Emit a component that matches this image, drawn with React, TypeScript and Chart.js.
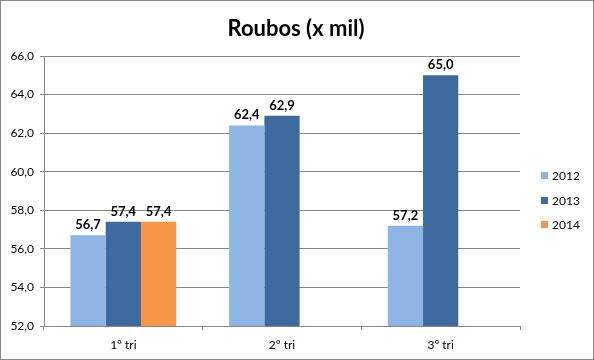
import React, { useEffect, useRef } from "react";
import { Chart, registerables } from "chart.js";

Chart.register(...registerables);

const categories = ["1º tri", "2º tri", "3º tri"];
const seriesNames = ["2012", "2013", "2014"];
const values2012 = [56.7, 62.4, 57.2];
const values2013 = [57.4, 62.9, 65.0];
const values2014: (number | null)[] = [57.4, null, null];
const colors = ["#8EB4E3", "#3F6A9F", "#F79646"];
const titleText = "Roubos (x mil)";
const yMin = 52;
const yMax = 66;
const yStep = 2;

const FONT = "Lato, 'Open Sans', sans-serif";

const fmt = (v: number) => v.toFixed(1).replace(".", ",");

const decorPlugin = {
  id: "decor",
  afterDraw(chart: any) {
    const ctx = chart.ctx;
    ctx.save();
    // outer border
    ctx.strokeStyle = "#888888";
    ctx.lineWidth = 1;
    ctx.strokeRect(0.5, 0.5, chart.width - 1, chart.height - 1);
    // title
    ctx.fillStyle = "#000";
    ctx.font = `bold 22px ${FONT}`;
    ctx.textAlign = "center";
    ctx.textBaseline = "alphabetic";
    ctx.fillText(titleText, 296, 36);
    // data labels
    ctx.font = `bold 13px ${FONT}`;
    ctx.textBaseline = "alphabetic";
    chart.data.datasets.forEach((ds: any, i: number) => {
      const meta = chart.getDatasetMeta(i);
      meta.data.forEach((bar: any, j: number) => {
        const v = ds.data[j];
        if (v == null) return;
        ctx.fillText(fmt(v), bar.x, bar.y - 6);
      });
    });
    // legend
    ctx.font = `12px ${FONT}`;
    ctx.textAlign = "left";
    ctx.textBaseline = "middle";
    const rowsY = [176, 201, 225];
    seriesNames.forEach((name, i) => {
      ctx.fillStyle = colors[i];
      ctx.fillRect(541, rowsY[i] - 4, 7, 7);
      ctx.fillStyle = "#000";
      ctx.fillText(name, 552, rowsY[i]);
    });
    ctx.restore();
  },
};

export default function App() {
  const ref = useRef<HTMLCanvasElement>(null);
  useEffect(() => {
    if (!ref.current) return;
    const chart = new Chart(ref.current, {
      type: "bar",
      data: {
        labels: categories,
        datasets: [
          { label: seriesNames[0], data: values2012, backgroundColor: colors[0] },
          { label: seriesNames[1], data: values2013, backgroundColor: colors[1] },
          { label: seriesNames[2], data: values2014, backgroundColor: colors[2] },
        ],
      },
      options: {
        responsive: false,
        animation: false,
        layout: { padding: { left: 0, right: 74, top: 56, bottom: 0 } },
        datasets: { bar: { categoryPercentage: 3 / 4.5, barPercentage: 1 } },
        plugins: {
          legend: { display: false },
          title: { display: false },
          tooltip: { enabled: false },
        },
        scales: {
          x: {
            grid: {
              drawOnChartArea: false,
              drawTicks: true,
              tickLength: 4,
              color: "#868686",
              offset: true,
            },
            border: { color: "#868686" },
            ticks: {
              color: "#000",
              font: { family: FONT, size: 12 },
              padding: 8,
            },
            afterFit: (s: any) => {
              s.height = 34;
            },
          },
          y: {
            min: yMin,
            max: yMax,
            grid: { color: "#868686", tickLength: 4 },
            border: { color: "#868686" },
            ticks: {
              stepSize: yStep,
              color: "#000",
              font: { family: FONT, size: 12 },
              padding: 6,
              callback: (v: any) => fmt(Number(v)),
            },
            afterFit: (s: any) => {
              s.width = 44;
            },
          },
        },
      },
      plugins: [decorPlugin],
    });
    return () => chart.destroy();
  }, []);
  return (
    <div style={{ position: "absolute", left: 0, top: 0, width: 594, height: 360, background: "#fff" }}>
      <canvas ref={ref} width={594} height={360} style={{ display: "block" }} />
    </div>
  );
}
